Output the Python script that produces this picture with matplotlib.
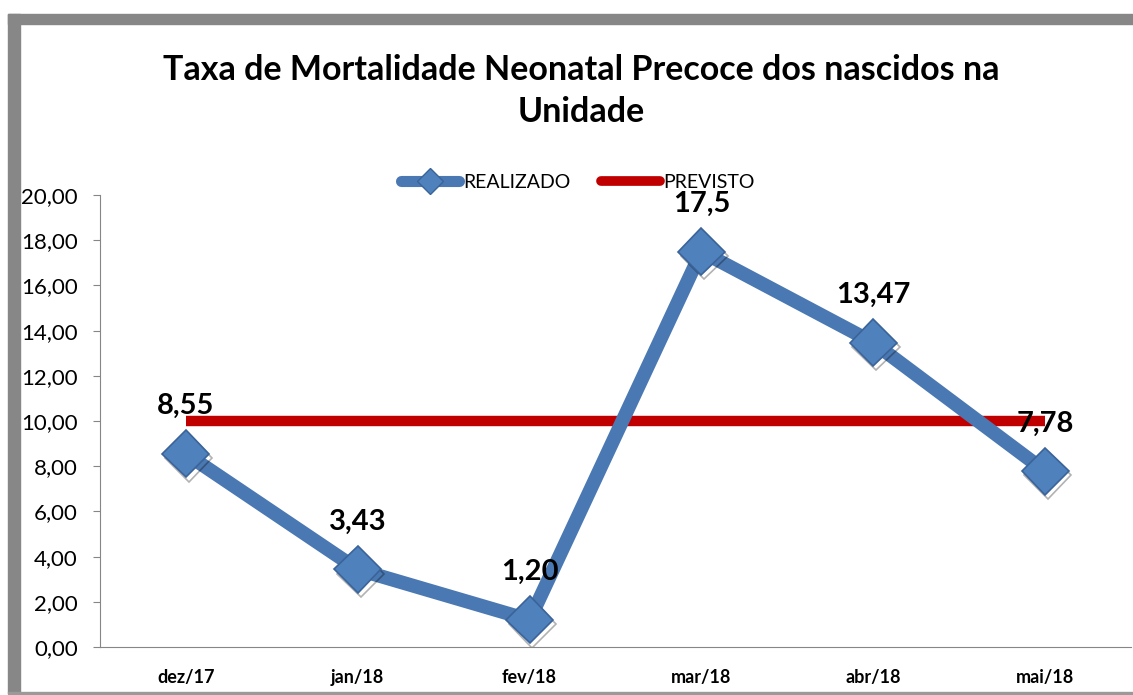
import matplotlib
matplotlib.use("Agg")
import matplotlib.pyplot as plt
import matplotlib.patheffects as pe
from matplotlib.patches import Rectangle

meses = ["dez/17", "jan/18", "fev/18", "mar/18", "abr/18", "mai/18"]
realizado = [8.55, 3.43, 1.20, 17.5, 13.47, 7.78]
rotulos = ["8,55", "3,43", "1,20", "17,5", "13,47", "7,78"]
previsto = [10, 10, 10, 10, 10, 10]
y_ticks = [0, 2, 4, 6, 8, 10, 12, 14, 16, 18, 20]

plt.rcParams['font.family'] = ['Lato', 'DejaVu Sans']

fig = plt.figure(figsize=(11.33, 6.95), dpi=100)
fig.patch.set_facecolor("white")

# moldura cinza (estilo Excel)
fig.patches.append(Rectangle((8 / 1133, 1 - 24 / 695), 1, 10 / 695,
                             transform=fig.transFigure, color="#878787"))
fig.patches.append(Rectangle((8 / 1133, 2 / 695), 12 / 1133, 1 - 16 / 695,
                             transform=fig.transFigure, color="#878787"))
fig.patches.append(Rectangle((8 / 1133, 1 / 695), 1, 2 / 695,
                             transform=fig.transFigure, color="#9a9a9a"))

ax = fig.add_axes([100 / 1133, 1 - 647 / 695, 1031 / 1133, 452 / 695])
x = list(range(len(meses)))

ax.plot(x, previsto, color="#C00000", lw=7.5, solid_capstyle="butt",
        label="PREVISTO", zorder=2)
ax.plot(x, realizado, color="#4A78B2", lw=10, solid_capstyle="round",
        label="REALIZADO", zorder=3)
# marcadores com sombra
ax.plot(x, realizado, ls="none", marker="D", markersize=24,
        markerfacecolor="#4F81BD", markeredgecolor="#3A6499", markeredgewidth=1.2,
        zorder=4,
        path_effects=[pe.SimpleLineShadow(offset=(2, -3), alpha=0.3), pe.Normal()])

for xi, v, t in zip(x, realizado, rotulos):
    ax.annotate(t, (xi, v), xytext=(0, 25), textcoords="offset points",
                ha="center", va="bottom", fontsize=21, fontweight="bold", zorder=5)

ax.set_xlim(-0.5, len(meses) - 0.5)
ax.set_ylim(0, 20)
ax.set_yticks(y_ticks)
ax.set_yticklabels([f"{v:.2f}".replace(".", ",") for v in y_ticks], fontsize=16)
ax.set_xticks(x)
ax.set_xticklabels(meses, fontsize=13, fontweight="bold")
ax.tick_params(axis="y", length=5, pad=11, color="#868686")
ax.tick_params(axis="x", length=0, pad=16)
for s in ["top", "right"]:
    ax.spines[s].set_visible(False)
ax.spines["left"].set_color("#868686")
ax.spines["bottom"].set_color("#868686")

# legenda
from matplotlib.lines import Line2D
h_real = Line2D([], [], color="#4A78B2", lw=8, solid_capstyle="round", marker="D",
                markersize=13, markerfacecolor="#4F81BD", markeredgecolor="#3A6499")
h_prev = Line2D([], [], color="#C00000", lw=7, solid_capstyle="round")
fig.legend([h_real, h_prev], ["REALIZADO", "PREVISTO"], loc="center",
           bbox_to_anchor=(578 / 1133, 1 - 182 / 695),
           ncol=2, frameon=False, fontsize=14, handlelength=3.0,
           columnspacing=1.6, handletextpad=0.2)

fig.text(581 / 1133, 1 - 91 / 695,
         "Taxa de Mortalidade Neonatal Precoce dos nascidos na\nUnidade",
         ha="center", va="center", fontsize=24.5, fontweight="bold", linespacing=1.4)

fig.savefig("out.png", dpi=100)
